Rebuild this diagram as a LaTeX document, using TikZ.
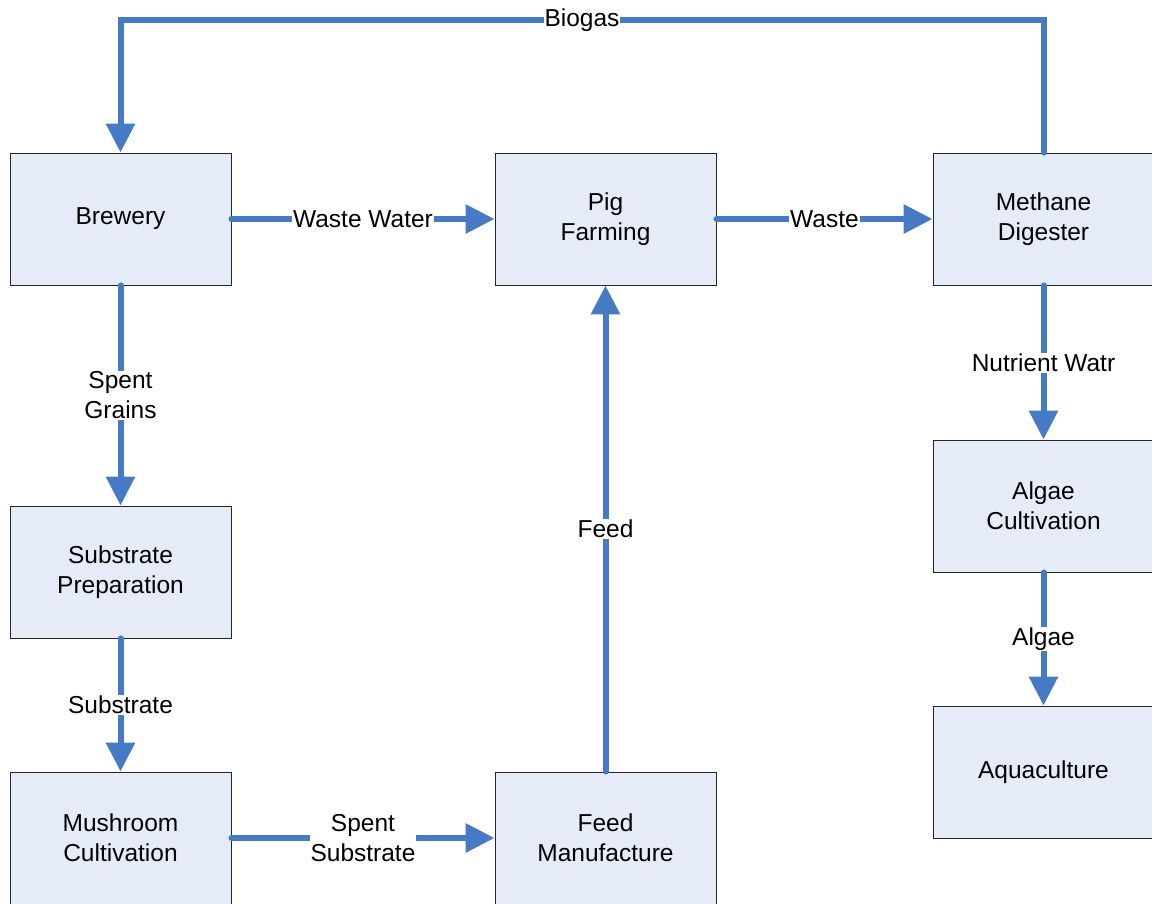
\documentclass[tikz,border=0pt]{standalone}
\usepackage{fontspec}
\setmainfont{Liberation Sans}
\usepackage{tikz}
\usetikzlibrary{arrows.meta}

\definecolor{flowblue}{RGB}{71,122,196}
\definecolor{boxfill}{RGB}{230,236,247}

\tikzset{
  box/.style={draw=black!85, line width=0.9pt, fill=boxfill, minimum width=221pt, minimum height=132pt,
              inner sep=0pt, align=center, font=\fontsize{24.5}{30}\selectfont},
  flow/.style={draw=flowblue, line width=6pt, line cap=round,
               -{Triangle[length=29pt,width=28pt]}},
  lbl/.style={fill=white, inner sep=1pt, align=center, font=\fontsize{24.5}{30}\selectfont}
}

\begin{document}
\begin{tikzpicture}[x=1pt,y=-1pt]
   \useasboundingbox (0,0) rectangle (1152,903);
   % process boxes
   \node[box] (brewery)   at (120.5,219) {Brewery};
   \node[box] (pig)       at (605.5,219) {Pig\\Farming};
   \node[box] (methane)   at (1043.5,219) {Methane\\Digester};
   \node[box] (substrate) at (120.5,572) {Substrate\\Preparation};
   \node[box] (mushroom)  at (120.5,838) {Mushroom\\Cultivation};
   \node[box] (feed)      at (605.5,838) {Feed\\Manufacture};
   \node[box] (algae)     at (1043.5,506) {Algae\\Cultivation};
   \node[box] (aqua)      at (1043.5,772) {Aquaculture};
   % biogas return line
   \coordinate (bgR) at (1043.5,20);
   \coordinate (bgL) at (120.5,20);
   \draw[flow] (methane.north) -- (bgR) -- node[lbl] {Biogas} (bgL) -- (brewery.north);
   % flows
   \draw[flow] (brewery.east) -- node[lbl] {Waste Water} (pig.west);
   \draw[flow] (pig.east) -- node[lbl] {Waste} (methane.west);
   \draw[flow] (brewery.south) -- node[lbl] {Spent\\Grains} (substrate.north);
   \draw[flow] (substrate.south) -- node[lbl] {Substrate} (mushroom.north);
   \draw[flow] (mushroom.east) -- node[lbl] {Spent\\Substrate} (feed.west);
   \draw[flow] (feed.north) -- node[lbl] {Feed} (pig.south);
   \draw[flow] (methane.south) -- node[lbl] {Nutrient Watr} (algae.north);
   \draw[flow] (algae.south) -- node[lbl] {Algae} (aqua.north);
\end{tikzpicture}
\end{document}
